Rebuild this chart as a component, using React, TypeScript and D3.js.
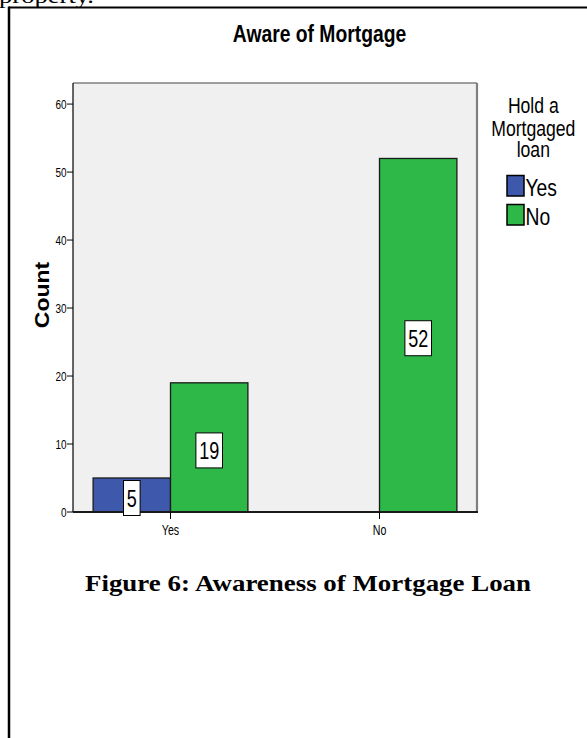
import React from "react";
import * as d3 from "d3";

// ---- Data ----
const categories = ["Yes", "No"]; // Aware of Mortgage
const seriesNames = ["Yes", "No"]; // Hold a Mortgaged loan
const holdYes: (number | null)[] = [5, null];
const holdNo: (number | null)[] = [19, 52];
const yTicks = [0, 10, 20, 30, 40, 50, 60];
const seriesColors = ["#3E58AC", "#2EB848"];
const chartTitle = "Aware of Mortgage";
const legendTitle = ["Hold a", "Mortgaged", "loan"];
const yLabel = "Count";
const caption = "Figure 6: Awareness of Mortgage Loan";
const topText = "property.";

const W = 587;
const H = 738;
const SANS = "Arial, 'Liberation Sans', sans-serif";
const SERIF = "'Times New Roman', 'Liberation Serif', serif";

function CText(props: {
  x: number; y: number; sx?: number; size: number; weight?: string | number;
  anchor?: "start" | "middle" | "end"; rotate?: number; fill?: string; family?: string;
  children: React.ReactNode;
}) {
  const { x, y, sx = 1, size, weight = "normal", anchor = "start", rotate, fill = "#000", family = SANS } = props;
  const t = `translate(${x},${y})${rotate ? ` rotate(${rotate})` : ""} scale(${sx},1)`;
  return (
    <text transform={t} fontSize={size} fontWeight={weight} textAnchor={anchor} fill={fill} fontFamily={family}>
      {props.children}
    </text>
  );
}

export default function App() {
  const plot = { left: 73, right: 477, top: 83, bottom: 512 };
  const y = d3.scaleLinear().domain([0, 63.1]).range([plot.bottom, plot.top]);
  const x = d3.scalePoint<string>().domain(categories).range([plot.left, plot.right]).padding(0.4665);
  const bw = 77.4;
  const sub = d3.scaleBand<string>().domain(seriesNames).range([-bw, bw]).padding(0);
  const series = [holdYes, holdNo];

  const labelSize = 24;
  const labelSx = 0.75;

  const bars: React.ReactNode[] = [];
  const labels: React.ReactNode[] = [];
  categories.forEach((cat, ci) => {
    seriesNames.forEach((s, si) => {
      const v = series[si][ci];
      if (v == null) return;
      const bx = (x(cat) as number) + (sub(s) as number);
      const by = y(v);
      const bh = y(0) - by;
      bars.push(
        <rect key={`b-${ci}-${si}`} x={bx} y={by} width={sub.bandwidth()} height={bh}
          fill={seriesColors[si]} stroke="#1a1a1a" strokeWidth={1.3} />
      );
      const txt = String(v);
      const tw = txt.length * 0.556 * labelSize * labelSx;
      const boxW = tw + 6.6;
      const boxH = 35;
      const cx = bx + sub.bandwidth() / 2;
      const cy = (by + y(0)) / 2 + 3;
      labels.push(
        <g key={`l-${ci}-${si}`}>
          <rect x={cx - boxW / 2} y={cy - boxH / 2} width={boxW} height={boxH} fill="#fff" stroke="#000" strokeWidth={1} />
          <CText x={cx} y={cy + 8.6} sx={labelSx} size={labelSize} anchor="middle">{txt}</CText>
        </g>
      );
    });
  });

  return (
    <svg width={W} height={H} viewBox={`0 0 ${W} ${H}`}
      style={{ position: "absolute", left: 0, top: 0, display: "block", background: "#fff" }}>
      {/* text cut at top of page */}
      <text x={-1} y={3} fontFamily={SERIF} fontSize={22} textLength={95} lengthAdjust="spacingAndGlyphs">{topText}</text>
      {/* outer frame */}
      <line x1={9} y1={7.5} x2={W} y2={7.5} stroke="#000" strokeWidth={2.2} />
      <line x1={9} y1={6.5} x2={9} y2={H} stroke="#000" strokeWidth={2.5} />

      {/* title */}
      <CText x={319.5} y={41.7} sx={0.84} size={23} weight="bold" anchor="middle">{chartTitle}</CText>

      {/* plot background */}
      <rect x={plot.left} y={plot.top} width={plot.right - plot.left} height={plot.bottom - plot.top} fill="#F0F0F0" />
      <line x1={plot.left} y1={plot.top} x2={plot.right} y2={plot.top} stroke="#7f7f7f" strokeWidth={1.5} />
      <line x1={plot.right} y1={plot.top} x2={plot.right} y2={plot.bottom} stroke="#7f7f7f" strokeWidth={2.2} />

      {bars}

      {/* axes */}
      <line x1={plot.left} y1={plot.top} x2={plot.left} y2={plot.bottom} stroke="#000" strokeWidth={1.2} />
      <line x1={plot.left} y1={plot.bottom} x2={plot.right + 1} y2={plot.bottom} stroke="#1a1a1a" strokeWidth={2} />

      {yTicks.map((t) => (
        <g key={`yt-${t}`}>
          <line x1={plot.left - 6} x2={plot.left} y1={y(t)} y2={y(t)} stroke="#000" strokeWidth={1} />
          <CText x={plot.left - 6.5} y={y(t) + 4.6} sx={0.74} size={13.5} anchor="end">{t}</CText>
        </g>
      ))}
      {categories.map((c) => (
        <g key={`xt-${c}`}>
          <line x1={x(c)} x2={x(c)} y1={plot.bottom} y2={plot.bottom + 7} stroke="#000" strokeWidth={1} />
          <CText x={x(c) as number} y={534.5} sx={0.76} size={14} anchor="middle">{c}</CText>
        </g>
      ))}

      {labels}

      {/* y axis label */}
      <CText x={49.3} y={295} rotate={-90} sx={1.15} size={20} weight="bold" anchor="middle">{yLabel}</CText>

      {/* legend */}
      {legendTitle.map((l, i) => (
        <CText key={`lt-${i}`} x={533.3} y={[113, 135.5, 157.3][i]} sx={0.8} size={22} anchor="middle">{l}</CText>
      ))}
      {seriesNames.map((s, i) => (
        <g key={`lg-${s}`}>
          <rect x={507} y={[175.5, 204.5][i]} width={17} height={20.5} fill={seriesColors[i]} stroke="#000" strokeWidth={1.5} />
          <CText x={525.5} y={[195.5, 224.5][i]} sx={0.84} size={23} anchor="start">{s}</CText>
        </g>
      ))}

      {/* caption */}
      <text x={308} y={590.5} fontFamily={SERIF} fontWeight="bold" fontSize={22.5} textAnchor="middle"
        textLength={446} lengthAdjust="spacingAndGlyphs">{caption}</text>
    </svg>
  );
}
